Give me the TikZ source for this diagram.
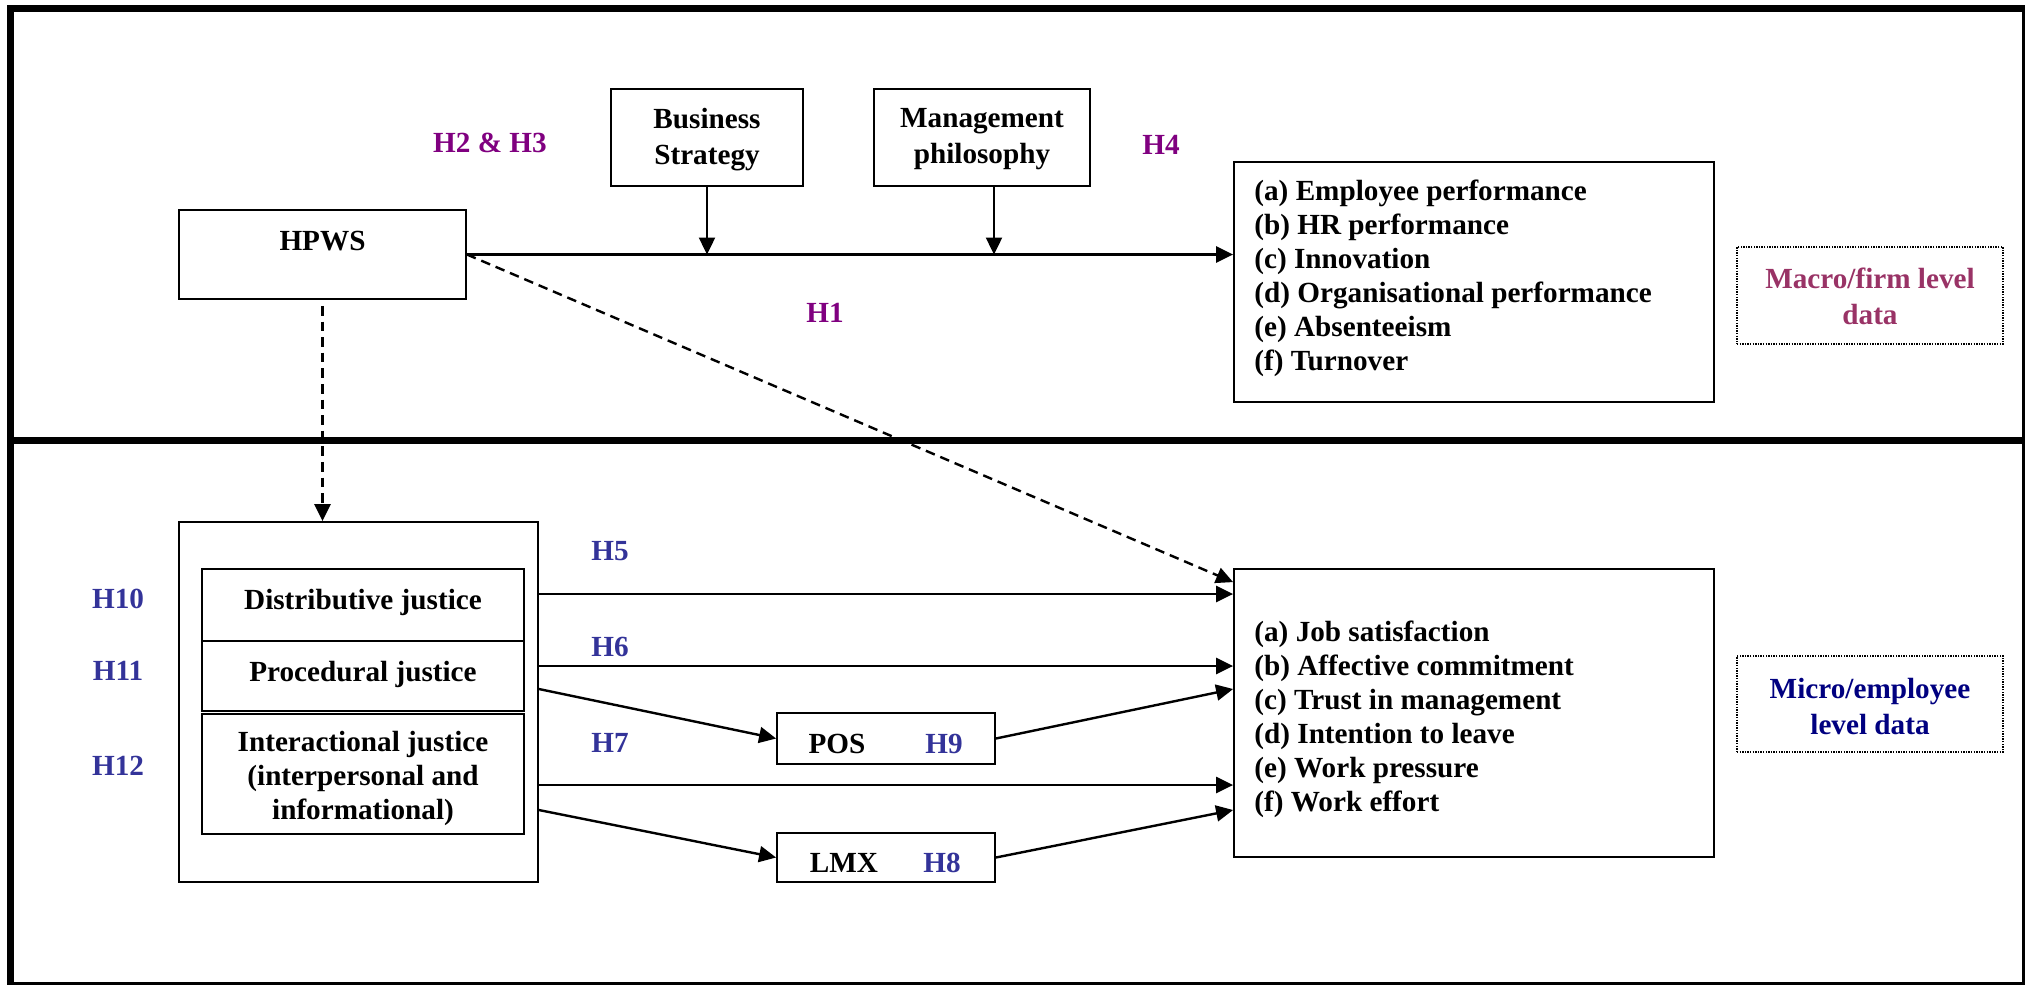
\documentclass[tikz,border=0pt]{standalone}
\usepackage{fontspec}
\setmainfont{Liberation Serif}
\usetikzlibrary{arrows.meta,calc}
\definecolor{hypPurple}{HTML}{800080}
\definecolor{hypBlue}{HTML}{333399}
\definecolor{macroCol}{HTML}{993366}
\definecolor{microCol}{HTML}{000080}

\begin{document}
\begin{tikzpicture}[x=0.5pt,y=-0.5pt,
  box/.style={draw, line width=0.9pt, inner sep=0pt},
  txt/.style={font=\fontsize{14.6}{17}\selectfont\bfseries, inner sep=0pt, align=center, yshift=-1.5pt},
  txt2/.style={txt, font=\fontsize{14.6}{18}\selectfont\bfseries},
  list/.style={txt, align=left, anchor=west},
  hyp/.style={txt, text=hypPurple},
  hypb/.style={txt, text=hypBlue},
  tag/.style={draw, line width=0.75pt, dash pattern=on 0.7pt off 0.6pt, inner sep=0pt},
  link/.style={line width=1.2pt, -{Triangle[length=8.5pt,width=8pt]}},
  dlink/.style={link, dash pattern=on 4.8pt off 3pt},
]
\useasboundingbox (0,0) rectangle (2026,987);

% outer frame and level divider
\draw[line width=3.5pt] (7,8.5) -- (2025,8.5);
\draw[line width=3.5pt] (10.5,5) -- (10.5,985);
\draw[line width=3.5pt] (7,440.5) -- (2025,440.5);
\draw[line width=1.5pt] (2023.5,5) -- (2023.5,985);
\draw[line width=1.5pt] (7,983.5) -- (2025,983.5);

% ---- firm level ----
\node[box, minimum width=143.5pt, minimum height=44.5pt] (hpws) at (322.5,254.5) {};
\node[txt] (hpwsT) at (322.5,238) {HPWS};
\node[box, minimum width=96pt, minimum height=48.5pt] (bus) at (707,137.5) {};
\node[txt2] (busT) at (707,136.5) {Business\\Strategy};
\node[box, minimum width=108pt, minimum height=48.5pt] (mgmt) at (982,137.5) {};
\node[txt2] (mgmtT) at (982,136.5) {Management\\philosophy};
\node[box, minimum width=240pt, minimum height=120pt] (macro) at (1474,282) {};
\node[list] (macroT) at (1254,275) {(a) Employee performance\\(b) HR performance\\(c) Innovation\\(d) Organisational performance\\(e) Absenteeism\\(f) Turnover};
\node[tag, minimum width=133pt, minimum height=48.5pt] (macroTag) at (1870,295.5) {};
\node[txt2, text=macroCol] (macroTagT) at (1870,293.5) {Macro/firm level\\data};

\node[hyp] (h23) at (490,140) {H2 \& H3};
\node[hyp] (h4) at (1161,142) {H4};
\node[hyp] (h1) at (825,310) {H1};

% ---- employee level ----
\node[box, minimum width=179.5pt, minimum height=180pt] (just) at (358.5,702) {};
\node[box, minimum width=161pt, minimum height=36pt] (dist) at (363,605) {};
\node[txt] (distT) at (363,599) {Distributive justice};
\node[box, minimum width=161pt, minimum height=35pt] (proc) at (363,676) {};
\node[txt] (procT) at (363,671) {Procedural justice};
\node[box, minimum width=161pt, minimum height=60pt] (inter) at (363,774) {};
\node[txt] (interT) at (363,775) {Interactional justice\\(interpersonal and\\informational)};

\node[box, minimum width=109pt, minimum height=25.5pt] (pos) at (886,738.5) {};
\node[txt] (posT) at (837,741) {POS};
\node[hypb] (h9) at (944,741) {H9};
\node[box, minimum width=109pt, minimum height=24.5pt] (lmx) at (886,857.5) {};
\node[txt] (lmxT) at (844,860) {LMX};
\node[hypb] (h8) at (942,860) {H8};

\node[box, minimum width=240pt, minimum height=144pt] (micro) at (1474,713) {};
\node[list] (microT) at (1254,716.5) {(a) Job satisfaction\\(b) Affective commitment\\(c) Trust in management\\(d) Intention to leave\\(e) Work pressure\\(f) Work effort};
\node[tag, minimum width=133pt, minimum height=48pt] (microTag) at (1870,704) {};
\node[txt2, text=microCol] (microTagT) at (1870,703) {Micro/employee\\level data};

\node[hypb] (h5) at (610,548) {H5};
\node[hypb] (h6) at (610,644) {H6};
\node[hypb] (h7) at (610,740) {H7};
\node[hypb] (h10) at (118,596) {H10};
\node[hypb] (h11) at (118,668) {H11};
\node[hypb] (h12) at (118,763) {H12};

% ---- connectors ----
\draw[link] (hpws.east) -- (hpws.east -| macro.west);
\draw[link] (bus.south) -- (bus.south |- hpws.east);
\draw[link] ($(mgmt.south)+(12,0)$) -- ($(mgmt.south |- hpws.east)+(12,0)$);
\draw[dlink] (hpws.east) -- ($(micro.north west)+(0,14)$);
\draw[dlink] ($(hpws.south)+(0,6)$) -- (hpws.south |- just.north);

\draw[link] ($(just.east)+(0,-108)$) -- ($(micro.west)+(0,-119)$);
\draw[link] ($(just.east)+(0,-36)$) -- ($(micro.west)+(0,-47)$);
\draw[link] ($(just.east)+(0,-13)$) -- (pos.west);
\draw[link] (pos.east) -- ($(micro.west)+(0,-24)$);
\draw[link] ($(just.east)+(0,83)$) -- ($(micro.west)+(0,72)$);
\draw[link] ($(just.east)+(0,108)$) -- (lmx.west);
\draw[link] (lmx.east) -- ($(micro.west)+(0,97)$);
\end{tikzpicture}
\end{document}
